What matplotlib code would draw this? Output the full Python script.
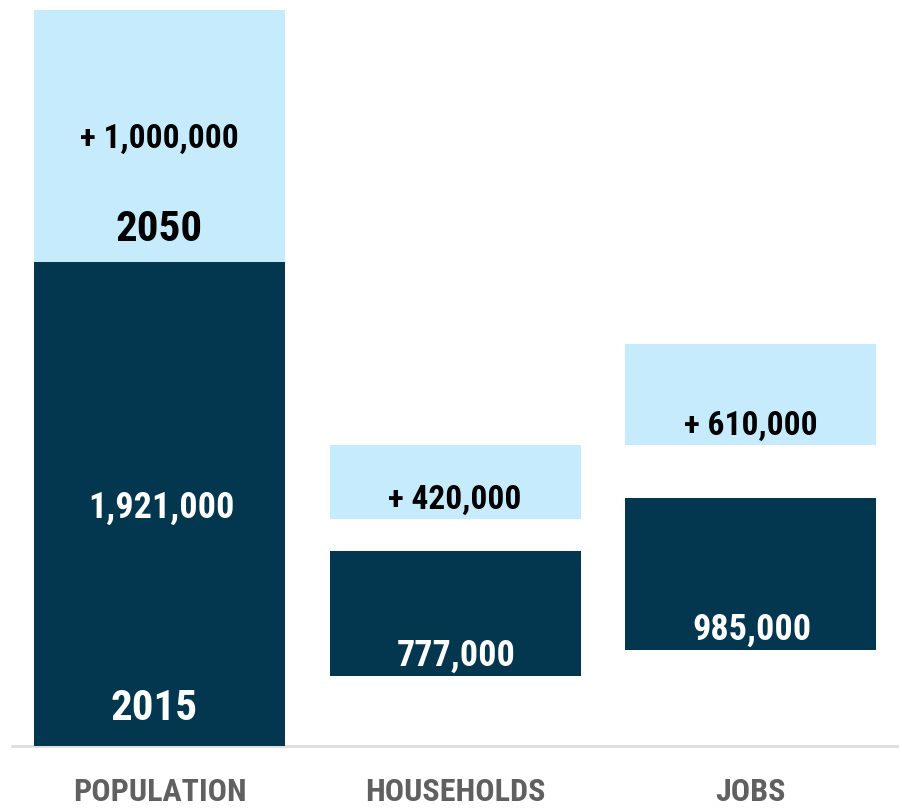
# Population / households / jobs growth, 2015 -> 2050

import matplotlib
matplotlib.use("Agg")
import matplotlib.pyplot as plt

categories = ["POPULATION", "HOUSEHOLDS", "JOBS"]
base_2015 = [1921000, 777000, 985000]
growth_2050 = [1000000, 420000, 610000]
base_labels = ["1,921,000", "777,000", "985,000"]
growth_labels = ["+ 1,000,000", "+ 420,000", "+ 610,000"]
year_labels = ["2015", "2050"]

# layout only: the smaller groups are drawn shrunk and floating, as in the source
dark_scale = [1.0, 0.638, 0.612]
light_scale = [1.0, 0.699, 0.657]
lift = [0, 278000, 381000]
gap = [0, 127000, 210000]

DARK = "#02374F"
LIGHT = "#C5EBFD"
GREY = "#606060"
FONT = ["Roboto Condensed", "DejaVu Sans"]

px = 1e6 / 252.0  # axis units per pixel

fig = plt.figure(figsize=(9.03, 8.08), dpi=100)
ax = fig.add_axes([0, 62 / 808, 1, 746 / 808])
ax.set_xlim(-159.5 / 295.5, (903 - 159.5) / 295.5)
ax.set_ylim(0, 746 * px)

xs = list(range(len(categories)))
width = 251 / 295.5
dark_h = [v * s for v, s in zip(base_2015, dark_scale)]
light_h = [v * s for v, s in zip(growth_2050, light_scale)]
light_bottom = [l + d + g for l, d, g in zip(lift, dark_h, gap)]

ax.bar(xs, dark_h, width=width, bottom=lift, color=DARK, linewidth=0)
ax.bar(xs, light_h, width=width, bottom=light_bottom, color=LIGHT, linewidth=0)

for i in xs:
    if i == 0:
        y_dark = lift[i] + dark_h[i] / 2 - 4 * px
        y_light = light_bottom[i] + light_h[i] / 2 - 3 * px
    else:
        y_dark = lift[i] + 20 * px
        y_light = light_bottom[i] + 19 * px
    ax.text(i + 0.005, y_dark, base_labels[i], color="white", fontsize=26,
            fontweight="bold", family=FONT, ha="center", va="center")
    ax.text(i, y_light, growth_labels[i], color="black", fontsize=24,
            fontweight="bold", family=FONT, ha="center", va="center")

ax.text(-0.02, 37 * px, year_labels[0], color="white", fontsize=31,
        fontweight="bold", family=FONT, ha="center", va="center")
ax.text(0, light_bottom[0] + 32 * px, year_labels[1], color="black",
        fontsize=31, fontweight="bold", family=FONT, ha="center", va="center")

ax.axhline(0, xmin=12 / 903, xmax=897 / 903, color="#DDDDDD", lw=2,
           clip_on=False, zorder=0)

ax.set_xticks(xs)
ax.set_xticklabels(categories, color=GREY, fontsize=23, fontweight="bold",
                   family=FONT)
ax.tick_params(axis="x", length=0, pad=22)
ax.set_yticks([])
for s in ax.spines.values():
    s.set_visible(False)

fig.savefig("out.png", dpi=100)
